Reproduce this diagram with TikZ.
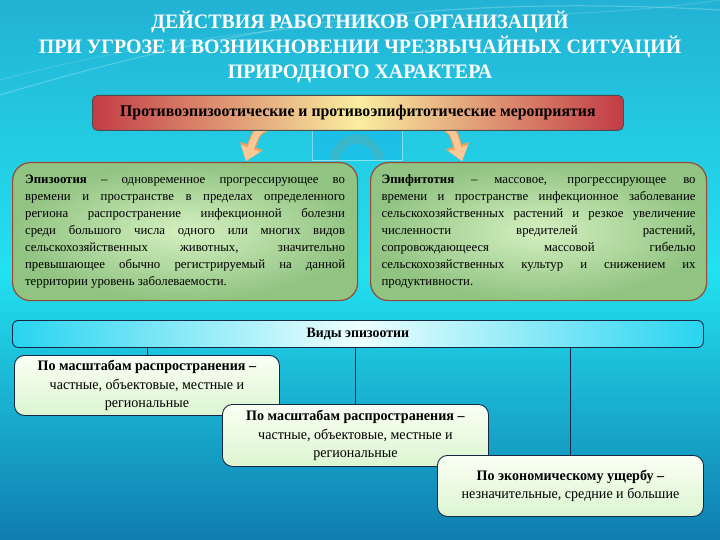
\documentclass[tikz,border=0pt]{standalone}
\usepackage{fontspec}
\setmainfont{Liberation Serif}
\newfontfamily\nf[FakeStretch=0.97]{Liberation Serif}
\usetikzlibrary{arrows.meta,shadings}
\definecolor{bgtop}{RGB}{35,178,212}
\definecolor{bgmid}{RGB}{35,225,240}
\definecolor{bgbot}{RGB}{15,125,175}
\definecolor{redend}{RGB}{195,60,70}
\definecolor{redmid}{RGB}{250,238,160}
\definecolor{grout}{RGB}{145,195,130}
\definecolor{grin}{RGB}{212,240,192}
\definecolor{brownline}{RGB}{150,75,55}
\definecolor{barend}{RGB}{40,212,240}
\definecolor{barmid}{RGB}{238,255,255}
\definecolor{navy}{RGB}{20,40,70}
\definecolor{boxtop}{RGB}{250,255,245}
\definecolor{boxbot}{RGB}{220,245,208}
\definecolor{peach}{RGB}{250,200,150}
\definecolor{orangeln}{RGB}{240,160,90}
\tikzset{
  titletext/.style={text=white, font=\nf\bfseries\fontsize{20.5}{25}\selectfont, align=center},
  topbox/.style={draw=black!70, line width=0.8pt, rounded corners=5pt, left color=redend, right color=redend, middle color=redmid, font=\nf\bfseries\fontsize{16.3}{18}\selectfont, inner sep=0pt},
  greenbox/.style={draw=brownline, line width=1.2pt, rounded corners=18pt, inner color=grin, outer color=grout, font=\fontsize{12.8}{17}\selectfont, text width=320pt, align=justify, inner xsep=12.5pt, inner ysep=0pt, anchor=north west},
  barbox/.style={draw=navy, line width=0.9pt, rounded corners=6pt, left color=barend, right color=barend, middle color=barmid, font=\nf\bfseries\fontsize{14.3}{16}\selectfont, inner sep=0pt, anchor=north west},
  kindbox/.style={draw=navy, line width=0.9pt, rounded corners=10pt, top color=boxtop, bottom color=boxbot, font=\nf\fontsize{14.5}{18.2}\selectfont, align=center, inner sep=0pt, anchor=north west},
  conn/.style={draw=navy, line width=0.9pt},
  arrowout/.style={draw=orangeln, line width=9pt, -{Triangle[width=24pt,length=16pt,line width=0.5pt,fill=orangeln]}},
  arrowin/.style={draw=peach, line width=6.5pt, -{Triangle[width=20.5pt,length=13.5pt,line width=0.5pt,fill=peach]}}
}
\begin{document}
\begin{tikzpicture}[x=1pt,y=-1pt]
\useasboundingbox (0,0) rectangle (720,540);
% background
\shade[top color=bgtop, bottom color=bgbot, middle color=bgmid] (0,0) rectangle (720,540);
\draw[white, opacity=0.22, line width=1.2pt] (0,95) .. controls (250,20) and (450,-5) .. (720,10);
\draw[white, opacity=0.15, line width=1pt] (0,80) .. controls (300,0) and (520,30) .. (720,0);
% title
\node[titletext] (title) at (360,47) {ДЕЙСТВИЯ РАБОТНИКОВ ОРГАНИЗАЦИЙ\\ПРИ УГРОЗЕ И ВОЗНИКНОВЕНИИ ЧРЕЗВЫЧАЙНЫХ СИТУАЦИЙ\\ПРИРОДНОГО ХАРАКТЕРА};
% faint rectangle with arch
\draw[draw=white, draw opacity=0.45, fill=blue!50!cyan, fill opacity=0.15] (312,130) rectangle (402,160);
\draw[orange, opacity=0.12, line width=9pt] (334,160) .. controls (340,132) and (374,132) .. (380,160);
% arrows (drawn below the top box)
\coordinate (la1) at (271,125);
\coordinate (la2) at (246,161);
\coordinate (ra1) at (442,125);
\coordinate (ra2) at (462,161);
\draw[arrowout] (la1) .. controls (257,131) .. (la2);
\draw[arrowin] (la1) .. controls (257,131) .. (la2);
\draw[arrowout] (ra1) .. controls (453,131) .. (ra2);
\draw[arrowin] (ra1) .. controls (453,131) .. (ra2);
% top box
\node[topbox, minimum width=531pt, minimum height=35pt, anchor=north west] (meas) at (92,95) {Противоэпизоотические и противоэпифитотические мероприятия};
% green boxes
\node[greenbox, minimum height=138pt] (epiz) at (12,162) {\textbf{Эпизоотия} – одновременное прогрессирующее во\linebreak времени и пространстве в пределах определенного\linebreak региона распространение инфекционной болезни\linebreak среди большого числа одного или многих видов\linebreak сельскохозяйственных животных, значительно\linebreak превышающее обычно регистрируемый на данной\linebreak территории уровень заболеваемости.};
\node[greenbox, minimum height=138pt, text width=314pt, inner xsep=11pt] (epif) at (370,162) {\textbf{Эпифитотия} – массовое, прогрессирующее во\linebreak времени и пространстве инфекционное заболевание\linebreak сельскохозяйственных растений и резкое увеличение\linebreak численности вредителей растений,\linebreak сопровождающееся массовой гибелью\linebreak сельскохозяйственных культур и снижением их\linebreak продуктивности.};
% bottom bar
\node[barbox, minimum width=691pt, minimum height=27pt] (vidy) at (12,320) {Виды эпизоотии};
% kind boxes
\node[kindbox, minimum width=265pt, minimum height=60pt] (k1) at (14,355) {\textbf{По масштабам распространения –}\\частные, объектовые, местные и\\региональные};
\draw[conn] (vidy.south -| k1.north) -- (k1.north);
\node[kindbox, minimum width=266pt, minimum height=62pt] (k2) at (222,404) {\textbf{По масштабам распространения –}\\частные, объектовые, местные и\\региональные};
\draw[conn] (vidy.south -| k2.north) -- (k2.north);
\node[kindbox, minimum width=266pt, minimum height=61pt] (k3) at (437,455) {\textbf{По экономическому ущербу –}\\незначительные, средние и большие};
\draw[conn] (vidy.south -| k3.north) -- (k3.north);
\end{tikzpicture}
\end{document}
